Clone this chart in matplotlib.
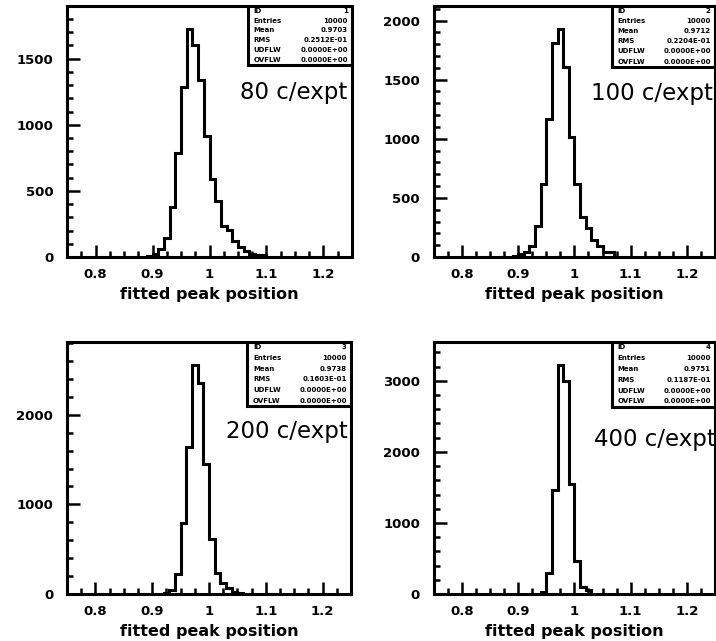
import numpy as np
import matplotlib
matplotlib.use('Agg')
import matplotlib.pyplot as plt
from matplotlib.ticker import MultipleLocator, FuncFormatter

# bin counts (bin width 0.01), first bin lower edge given separately
labels = ['80 c/expt', '100 c/expt', '200 c/expt', '400 c/expt']
starts = [0.89, 0.89, 0.92, 0.94]
counts = [
    [8, 20, 60, 146, 375, 785, 1285, 1725, 1600, 1340, 915, 590, 420, 235, 203, 120, 78, 43, 25, 18, 15],
    [8, 22, 44, 91, 262, 614, 1170, 1808, 1925, 1610, 1018, 614, 338, 242, 147, 91, 44, 40],
    [10, 50, 222, 792, 1635, 2560, 2357, 1450, 618, 237, 118, 63, 20, 8],
    [33, 295, 1470, 3226, 3000, 1555, 460, 94, 50],
]
ymax = [1900, 2125, 2810, 3545]
ymajor = [500, 500, 1000, 1000]
yminor = [100, 100, 200, 200]

stat_names = ['ID', 'Entries', 'Mean', 'RMS', 'UDFLW', 'OVFLW']
stat_values = [
    ['1', '10000', '0.9703', '0.2512E-01', '0.0000E+00', '0.0000E+00'],
    ['2', '10000', '0.9712', '0.2204E-01', '0.0000E+00', '0.0000E+00'],
    ['3', '10000', '0.9738', '0.1603E-01', '0.0000E+00', '0.0000E+00'],
    ['4', '10000', '0.9751', '0.1187E-01', '0.0000E+00', '0.0000E+00'],
]

# axes rectangles in figure fractions
rects = [
    [0.0936, 0.599, 0.398, 0.392],
    [0.606, 0.599, 0.3925, 0.392],
    [0.0936, 0.0733, 0.3966, 0.393],
    [0.606, 0.0733, 0.3925, 0.393],
]
text_pos = [(0.982, 0.63, 'right'), (0.993, 0.625, 'right'),
            (0.99, 0.619, 'right'), (0.569, 0.589, 'left')]
box_pos = [(0.635, 0.765), (0.633, 0.758), (0.635, 0.746), (0.633, 0.743)]

fig = plt.figure(figsize=(7.16, 6.41), dpi=100)
lw = 2.2

for i in range(4):
    ax = fig.add_axes(rects[i])
    c = np.array(counts[i])
    edges = starts[i] + 0.01 * np.arange(len(c) + 1)
    ax.stairs(c, edges, color='black', lw=lw)
    ax.set_xlim(0.75, 1.25)
    ax.set_ylim(0, ymax[i])

    ax.xaxis.set_major_locator(MultipleLocator(0.1))
    ax.xaxis.set_minor_locator(MultipleLocator(0.025))
    ax.yaxis.set_major_locator(MultipleLocator(ymajor[i]))
    ax.yaxis.set_minor_locator(MultipleLocator(yminor[i]))
    ax.xaxis.set_major_formatter(FuncFormatter(lambda v, p: '%g' % round(v, 3)))
    ax.yaxis.set_major_formatter(FuncFormatter(lambda v, p: '%d' % v))
    ax.tick_params(which='both', direction='in', top=False, right=False, width=1.8, color='black')
    ax.tick_params(which='major', length=9)
    ax.tick_params(which='minor', length=4.5)
    ax.tick_params(axis='y', which='major', pad=10, labelsize=9.5)
    ax.tick_params(axis='x', which='major', pad=8, labelsize=9.5)
    for t in ax.get_xticklabels() + ax.get_yticklabels():
        t.set_fontweight('bold')
    for s in ax.spines.values():
        s.set_linewidth(lw)
    ax.set_xlabel('fitted peak position', fontsize=11.5, fontweight='bold', labelpad=4)

    tx, ty, ha = text_pos[i]
    ax.text(tx, ty, labels[i], transform=ax.transAxes, ha=ha, va='baseline',
            fontsize=16.5, clip_on=True)

    # statistics box in the upper right corner
    bx, by = box_pos[i]
    ax.add_patch(plt.Rectangle((bx, by), 1 - bx, 1 - by, transform=ax.transAxes,
                               facecolor='white', edgecolor='black', lw=lw, zorder=5))
    nrow = len(stat_names)
    h = (1 - by) / nrow
    for r in range(nrow):
        yy = 1 - h * (r + 0.5)
        ax.text(bx + 0.02, yy, stat_names[r], transform=ax.transAxes, ha='left',
                va='center', fontsize=5, fontweight='bold', zorder=6)
        ax.text(0.985, yy, stat_values[i][r], transform=ax.transAxes, ha='right',
                va='center', fontsize=5, fontweight='bold', zorder=6)

fig.savefig('out.png', dpi=100)
